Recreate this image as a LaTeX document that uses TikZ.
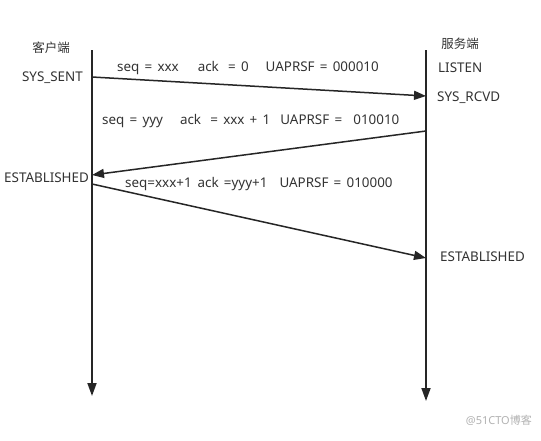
\documentclass[tikz,border=0pt]{standalone}
\usepackage{fontspec}
\setmainfont{Noto Sans}[WordSpace=1.5]
\newfontfamily\cjkfont{Noto Sans CJK SC}
\usetikzlibrary{arrows.meta}
\begin{document}
\begin{tikzpicture}[x=1pt,y=-1pt,
  lifeline/.style={line width=1.8pt,draw=black!85,-{Triangle[length=13pt,width=9pt]}},
  msg/.style={line width=1.5pt,draw=black!85,-{Triangle[length=12pt,width=9pt]}},
  lbl/.style={inner sep=0pt,font=\fontsize{13.4}{15}\selectfont,text=black!80},
  cjk/.style={inner sep=0pt,font=\cjkfont\fontsize{12.5}{14}\selectfont,text=black!80}]
\useasboundingbox (0,0) rectangle (541,440);
\fill[white] (0,0) rectangle (541,440);
% lifelines
\coordinate (ctop) at (92,50);
\coordinate (cbot) at (92,396);
\coordinate (stop) at (426,50);
\coordinate (sbot) at (426,401);
\draw[lifeline] (ctop) -- (cbot);
\draw[lifeline] (stop) -- (sbot);
% message endpoints
\coordinate (c1) at (92,77);
\coordinate (s1) at (426,96);
\coordinate (s2) at (426,131);
\coordinate (c2) at (92,175);
\coordinate (c3) at (92,184);
\coordinate (s3) at (426,258);
\draw[msg] (c1) -- (s1);
\draw[msg] (s2) -- (c2);
\draw[msg] (c3) -- (s3);
% headers
\node[cjk] (client) at (51,48) {客户端};
\node[cjk] (server) at (460,44) {服务端};
% states
\node[lbl,anchor=east] (sent) at (83,78) {SYS\_SENT};
\node[lbl,anchor=west] (listen) at (438,68) {LISTEN};
\node[lbl,anchor=west] (rcvd) at (437,98) {SYS\_RCVD};
\node[lbl,anchor=west] (estc) at (4,178) {ESTABLISHED};
\node[lbl,anchor=west] (ests) at (440,257) {ESTABLISHED};
% message labels
\node[lbl,anchor=west] (m1) at (117,68) {seq = xxx\hspace{19pt}ack\hspace{4pt} = 0\hspace{17pt}UAPRSF = 000010};
\node[lbl,anchor=west] (m2) at (102,121) {seq = yyy\hspace{17pt}ack\hspace{4pt} = xxx + 1\hspace{10pt}UAPRSF =\hspace{6pt} 010010};
\node[lbl,anchor=west] (m3) at (125,184) {seq=xxx+1\hspace{6pt}ack =yyy+1\hspace{12pt}UAPRSF = 010000};
% watermark
\node[inner sep=0pt,anchor=east,text=black!30,font=\fontsize{11}{13}\selectfont] (wm) at (532,420) {@51CTO{\cjkfont 博客}};
\end{tikzpicture}
\end{document}
